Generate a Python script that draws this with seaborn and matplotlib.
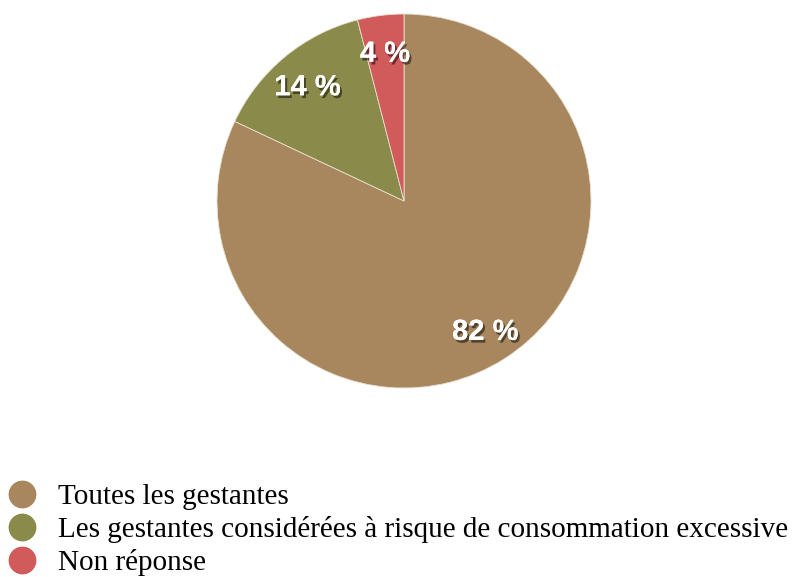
import matplotlib
matplotlib.use("Agg")
import matplotlib.pyplot as plt
import matplotlib.patheffects as pe
from matplotlib.lines import Line2D
import seaborn as sns

categories = ["Toutes les gestantes",
              "Les gestantes considérées à risque de consommation excessive",
              "Non réponse"]
values = [82, 14, 4]
colors = ["#A8875E", "#8A8B4A", "#D15A5A"]

sns.set_theme(style="white")

W, H = 796, 577
fig = plt.figure(figsize=(W / 100, H / 100), dpi=100)
cx, cy, r = 404, 201, 187
ax = fig.add_axes([(cx - r) / W, (H - cy - r) / H, 2 * r / W, 2 * r / H])

wedges, texts, autotexts = ax.pie(
    values, colors=colors, startangle=90, counterclock=False,
    autopct=lambda p: f"{p:.0f} %", pctdistance=0.81, radius=1,
    wedgeprops=dict(edgecolor="#e8e0d0", linewidth=0.6),
    textprops=dict(color="white", fontsize=21, fontweight="bold",
                   family="Liberation Sans"))
for t in autotexts:
    t.set_verticalalignment("center_baseline")
    t.set_path_effects([pe.withSimplePatchShadow(offset=(1.5, -2), shadow_rgbFace="black", alpha=0.5),
                        pe.Normal()])
ax.set_xlim(-1, 1)
ax.set_ylim(-1, 1)
ax.set_aspect("equal")
ax.axis("off")

handles = [Line2D([0], [0], marker="o", linestyle="none", markersize=19,
                  markerfacecolor=c, markeredgecolor=c) for c in colors]
fig.legend(handles, categories, loc="upper left",
           bbox_to_anchor=(7.4 / W, 1 - 484 / H), frameon=False,
           borderpad=0, borderaxespad=0, handlelength=1.0, handletextpad=0.73,
           labelspacing=0.2, labelcolor="black",
           prop=dict(family="Liberation Serif", size=21))

fig.savefig("out.png", dpi=100, facecolor="white")
